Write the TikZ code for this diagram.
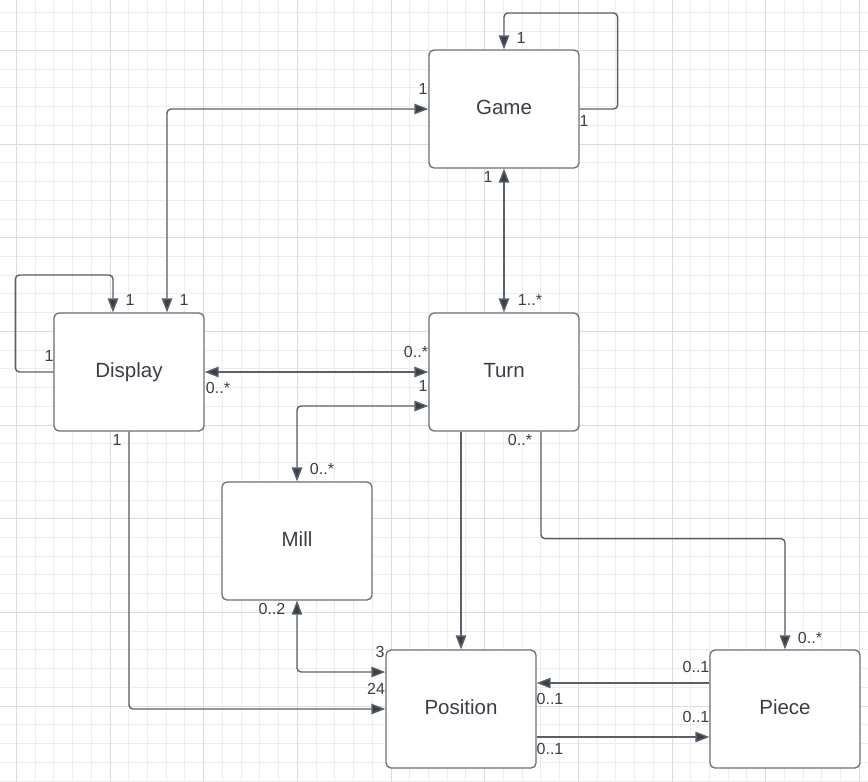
\documentclass[tikz,border=0pt]{standalone}
\usepackage{fontspec}
\setmainfont{Liberation Sans}
\usetikzlibrary{arrows.meta}
\definecolor{gridminor}{HTML}{EDEDED}
\definecolor{gridmajor}{HTML}{DCDCDC}
\definecolor{boxline}{HTML}{6A6F78}
\definecolor{wire}{HTML}{5A606A}
\definecolor{ink}{HTML}{3A3F47}
\tikzset{
  classbox/.style={draw=boxline, fill=white, line width=1.3pt, rounded corners=5pt,
    minimum width=150pt, minimum height=118pt, inner sep=0pt,
    text=ink, font=\fontsize{20.5}{24}\selectfont, text height=10pt, text depth=0pt},
  wirebase/.style={draw=wire, line width=1.4pt, rounded corners=4pt},
  arr/.style={wirebase, -{Triangle[length=14pt,width=10.5pt,fill=ink]}},
  biarr/.style={wirebase, {Triangle[length=14pt,width=10.5pt,fill=ink]}-{Triangle[length=14pt,width=10.5pt,fill=ink]}},
  mult/.style={inner sep=0pt, text=ink, font=\fontsize{16}{19}\selectfont, text depth=0pt}
}
\begin{document}
\begin{tikzpicture}[x=1pt,y=-1pt]
  \useasboundingbox (0,0) rectangle (868,782);
  \fill[white] (0,0) rectangle (868,782);
  % background grid
  \foreach \k in {0,...,45} {
    \pgfmathsetmacro{\gx}{16.3+\k*18.733}
    \draw[gridminor, line width=0.8pt] (\gx,0) -- (\gx,782);
  }
  \foreach \k in {0,...,41} {
    \pgfmathsetmacro{\gy}{12.85+\k*18.733}
    \draw[gridminor, line width=0.8pt] (0,\gy) -- (868,\gy);
  }
  \foreach \k in {0,5,...,45} {
    \pgfmathsetmacro{\gx}{16.3+\k*18.733}
    \draw[gridmajor, line width=0.8pt] (\gx,0) -- (\gx,782);
  }
  \foreach \k in {2,7,...,41} {
    \pgfmathsetmacro{\gy}{12.85+\k*18.733}
    \draw[gridmajor, line width=0.8pt] (0,\gy) -- (868,\gy);
  }

  % classes
  \node[classbox] (Game)     at (504,109) {Game};
  \node[classbox] (Display)  at (129,372) {Display};
  \node[classbox] (Turn)     at (504,372) {Turn};
  \node[classbox] (Mill)     at (297,541) {Mill};
  \node[classbox] (Position) at (461,709) {Position};
  \node[classbox] (Piece)    at (785,709) {Piece};

  % associations
  \draw[arr] (Game.east) -- ++(38,0) -- ++(0,-96) -| (Game.north);
  \draw[biarr] ([xshift=38pt]Display.north) |- (Game.west);
  \draw[biarr] (Game.south) -- (Turn.north);
  \draw[arr] (Display.west) -- ++(-38,0) -- ++(0,-97) -| ([xshift=-16pt]Display.north);
  \draw[biarr] (Display.east) -- (Turn.west);
  \draw[biarr] ([yshift=-34pt]Turn.west) -| (Mill.north);
  \draw[arr] (Turn.south -| Position.north) -- (Position.north);
  \draw[arr] ([xshift=37pt]Turn.south) -- ++(0,107) -| (Piece.north);
  \draw[arr] (Display.south) |- (Position.west);
  \draw[biarr] (Mill.south) |- ([yshift=37pt]Position.west);
  \draw[arr] ([yshift=26pt]Piece.west) -- ([yshift=26pt]Position.east);
  \draw[arr] ([yshift=-28pt]Position.east) -- ([yshift=-28pt]Piece.west);

  % multiplicities
  \node[mult] (mGameTop)   at (521,38)  {1};
  \node[mult] (mGameRight) at (584,121) {1};
  \node[mult] (mGameLeft)  at (423,89)  {1};
  \node[mult] (mGameBot)   at (488,177) {1};
  \node[mult] (mTurnTop)   at (530,300) {1..*};
  \node[mult] (mDispA)     at (184,300) {1};
  \node[mult] (mDispB)     at (130,300) {1};
  \node[mult] (mDispLeft)  at (49,356)  {1};
  \node[mult] (mTurnDisp)  at (416,352) {0..*};
  \node[mult] (mTurnMill)  at (423,386) {1};
  \node[mult] (mDispTurn)  at (218,388) {0..*};
  \node[mult] (mMillTop)   at (322,469) {0..*};
  \node[mult] (mTurnBot)   at (520,440) {0..*};
  \node[mult] (mPieceTop)  at (810,638) {0..*};
  \node[mult] (mDispBot)   at (117,440) {1};
  \node[mult] (mMillBot)   at (272,609) {0..2};
  \node[mult] (mPosMill)   at (380,652) {3};
  \node[mult] (mPosDisp)   at (376,689) {24};
  \node[mult] (mPieceA)    at (696,667) {0..1};
  \node[mult] (mPosA)      at (550,699) {0..1};
  \node[mult] (mPieceB)    at (696,717) {0..1};
  \node[mult] (mPosB)      at (550,749) {0..1};
\end{tikzpicture}
\end{document}
